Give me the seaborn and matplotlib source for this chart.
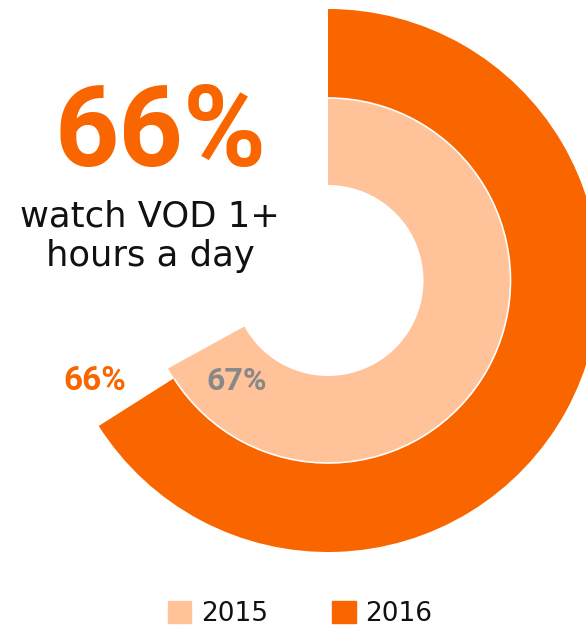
import matplotlib
matplotlib.use("Agg")
import matplotlib.pyplot as plt
import matplotlib.patches as mpatches
import seaborn as sns

# ---- data ----
years = ["2015", "2016"]
values = [0.67, 0.66]          # share watching VOD 1+ hours a day
value_labels = ["67%", "66%"]
headline = "66%"
subtitle = "watch VOD 1+\nhours a day"

sns.set_theme(style="white")
palette = ["#FFC299", "#F96600"]   # 2015, 2016

W, H = 586, 629
fig = plt.figure(figsize=(W / 100, H / 100), dpi=100)
ax = fig.add_axes([0, 0, 1, 1])

cx, cy = 328, H - 280.5
r_out, r_mid, r_in = 271.5, 182.5, 95.5

# outer ring: 2016
ax.pie([values[1], 1 - values[1]], radius=r_out, center=(cx, cy),
       colors=[palette[1], "none"], startangle=90, counterclock=False,
       wedgeprops=dict(width=r_out - r_mid, edgecolor="none", linewidth=0))
# inner ring: 2015
ax.pie([values[0], 1 - values[0]], radius=r_mid, center=(cx, cy),
       colors=[palette[0], "none"], startangle=90, counterclock=False,
       wedgeprops=dict(width=r_mid - r_in, edgecolor="none", linewidth=0))
# thin white separator
sep = mpatches.Arc((cx, cy), 2 * r_mid, 2 * r_mid, theta1=90 - 360 * values[1], theta2=90,
                   color="white", lw=1.2)
ax.add_patch(sep)

ax.set_xlim(0, W)
ax.set_ylim(0, H)
ax.set_aspect("auto")
ax.axis("off")

bold_font = ["Roboto", "DejaVu Sans"]
ax.text(161, H - 135, headline, color=palette[1], fontsize=81, fontweight="bold",
        family=bold_font, ha="center", va="center")
ax.text(150, H - 236, subtitle, color="#111111", fontsize=25.5, family=["DejaVu Sans"],
        ha="center", va="center", linespacing=1.2)

ax.text(95, H - 381, value_labels[1], color=palette[1], fontsize=24, fontweight="bold",
        family=bold_font, ha="center", va="center")
ax.text(237, H - 381, value_labels[0], color="#888888", fontsize=23, fontweight="bold",
        family=bold_font, ha="center", va="center")

handles = [mpatches.Patch(color=palette[0], label=years[0]),
           mpatches.Patch(color=palette[1], label=years[1])]
leg = fig.legend(handles=handles, loc="center", bbox_to_anchor=(300 / W, 1 - 614 / H),
                 ncol=2, frameon=False, prop=dict(family="DejaVu Sans", size=19),
                 handlelength=0.9, handleheight=0.9, handletextpad=0.35, columnspacing=2.45)
for t in leg.get_texts():
    t.set_color("#111111")

fig.savefig("out.png", dpi=100)
